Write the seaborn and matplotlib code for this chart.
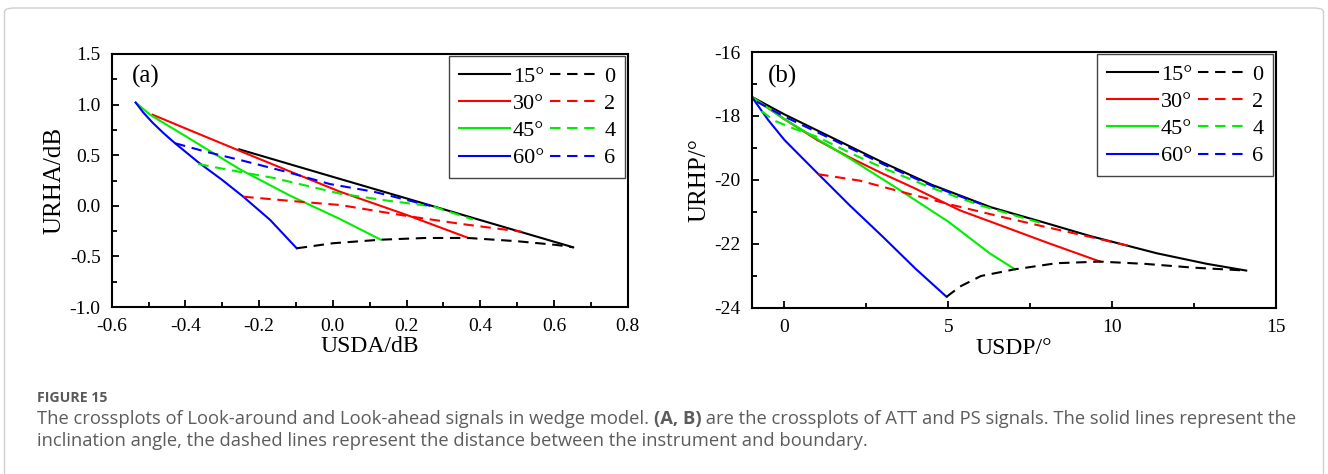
import matplotlib
matplotlib.use("Agg")
import matplotlib.pyplot as plt
from matplotlib.lines import Line2D
from matplotlib.patches import FancyBboxPatch
from matplotlib.ticker import MultipleLocator, FuncFormatter
import numpy as np
import pandas as pd
import seaborn as sns

# ---------------- data: panel (a) ATT crossplot ----------------
a_15_x = [-0.254, 0.0, 0.2, 0.4, 0.652]
a_15_y = [0.558, 0.286, 0.073, -0.141, -0.41]
a_30_x = [-0.489, -0.40, -0.254, -0.12, 0.019, 0.2, 0.368]
a_30_y = [0.90, 0.765, 0.545, 0.345, 0.14, -0.09, -0.318]
a_45_x = [-0.535, -0.496, -0.387, -0.252, -0.116, 0.019, 0.13]
a_45_y = [1.02, 0.90, 0.66, 0.36, 0.10, -0.13, -0.335]
a_60_x = [-0.535, -0.515, -0.49, -0.46, -0.428, -0.365, -0.30, -0.243, -0.17, -0.098]
a_60_y = [1.02, 0.925, 0.825, 0.72, 0.618, 0.43, 0.255, 0.09, -0.14, -0.42]

a_d0_x = [-0.098, 0.0, 0.13, 0.25, 0.368, 0.5, 0.607, 0.652]
a_d0_y = [-0.42, -0.37, -0.335, -0.318, -0.318, -0.35, -0.387, -0.41]
a_d2_x = [-0.243, -0.089, 0.019, 0.2, 0.35, 0.512]
a_d2_y = [0.09, 0.04, 0.008, -0.10, -0.18, -0.256]
a_d4_x = [-0.365, -0.29, -0.16, 0.02, 0.15, 0.27, 0.38]
a_d4_y = [0.413, 0.36, 0.275, 0.12, 0.05, -0.005, -0.135]
a_d6_x = [-0.428, -0.34, -0.252, -0.12, -0.008, 0.11, 0.264]
a_d6_y = [0.618, 0.53, 0.453, 0.33, 0.215, 0.14, 0.0]

# ---------------- data: panel (b) PS crossplot ----------------
b_15_x = [-1.0, 0.0, 1.5, 3.0, 4.5, 6.3, 8.0, 9.33, 11.37, 12.9, 14.1]
b_15_y = [-17.4, -17.95, -18.7, -19.45, -20.15, -20.85, -21.35, -21.75, -22.29, -22.62, -22.83]
b_30_x = [-1.0, 0.0, 1.0, 2.0, 3.0, 4.0, 5.36, 6.5, 8.0, 9.64]
b_30_y = [-17.4, -18.1, -18.75, -19.3, -19.8, -20.27, -20.95, -21.38, -21.95, -22.55]
b_45_x = [-1.0, 0.0, 1.0, 2.0, 3.5, 5.0, 6.28, 7.04]
b_45_y = [-17.4, -18.1, -18.72, -19.33, -20.3, -21.3, -22.3, -22.79]
b_60_x = [-1.0, -0.5, 0.0, 1.0, 2.0, 3.0, 4.0, 4.95]
b_60_y = [-17.4, -18.12, -18.75, -19.78, -20.8, -21.77, -22.77, -23.65]

b_d0_x = [4.95, 5.36, 6.0, 7.04, 8.31, 9.63, 11.0, 12.5, 14.1]
b_d0_y = [-23.65, -23.33, -23.0, -22.79, -22.6, -22.55, -22.62, -22.74, -22.83]
b_d2_x = [1.03, 2.3, 3.5, 5.0, 6.5, 7.9, 9.3, 10.6]
b_d2_y = [-19.82, -20.02, -20.35, -20.75, -21.12, -21.45, -21.77, -22.08]
b_d4_x = [-0.7, -0.3, 0.3, 1.0, 2.0, 3.0, 4.5, 6.0, 7.85]
b_d4_y = [-17.85, -18.15, -18.4, -18.65, -19.15, -19.62, -20.25, -20.8, -21.35]
b_d6_x = [-0.85, 0.0, 1.5, 3.0, 4.5, 6.0]
b_d6_y = [-17.55, -18.02, -18.75, -19.5, -20.18, -20.75]

angle_labels = ["15°", "30°", "45°", "60°"]
dist_labels = ["0", "2", "4", "6"]
colors = ["#000000", "#ff0000", "#00ee00", "#0000ff"]

SERIF = ["Liberation Serif", "DejaVu Serif"]
plt.rcParams["font.family"] = SERIF

W, H = 1328, 474
fig = plt.figure(figsize=(W / 100, H / 100), dpi=100)
fig.patch.set_facecolor("white")


def px_axes(l, t, r, b):
    return fig.add_axes([l / W, 1 - b / H, (r - l) / W, (b - t) / H])


ax_a = px_axes(111.7, 54, 627.7, 307)
ax_b = px_axes(751.7, 52, 1275.7, 308)

DASH = (0, (5, 3.2))
LW = 1.5


def draw_panel(ax, solids, dashed):
    for (x, y), c in zip(solids, colors):
        sns.lineplot(x=x, y=y, sort=False, estimator=None, color=c,
                     linewidth=LW, linestyle="-", ax=ax)
    for (x, y), c in zip(dashed, colors):
        sns.lineplot(x=x, y=y, sort=False, estimator=None, color=c,
                     linewidth=LW, linestyle=DASH, ax=ax)


draw_panel(ax_a,
           [(a_15_x, a_15_y), (a_30_x, a_30_y), (a_45_x, a_45_y), (a_60_x, a_60_y)],
           [(a_d0_x, a_d0_y), (a_d2_x, a_d2_y), (a_d4_x, a_d4_y), (a_d6_x, a_d6_y)])
draw_panel(ax_b,
           [(b_15_x, b_15_y), (b_30_x, b_30_y), (b_45_x, b_45_y), (b_60_x, b_60_y)],
           [(b_d0_x, b_d0_y), (b_d2_x, b_d2_y), (b_d4_x, b_d4_y), (b_d6_x, b_d6_y)])


def style_axes(ax, xlim, ylim, xmaj, xmin, ymaj, ymin, xlabel, ylabel, tag, tagpos, xfmt, yfmt):
    ax.set_xlim(*xlim)
    ax.set_ylim(*ylim)
    ax.xaxis.set_major_locator(MultipleLocator(xmaj))
    ax.xaxis.set_minor_locator(MultipleLocator(xmin))
    ax.yaxis.set_major_locator(MultipleLocator(ymaj))
    ax.yaxis.set_minor_locator(MultipleLocator(ymin))
    ax.xaxis.set_major_formatter(xfmt)
    ax.yaxis.set_major_formatter(yfmt)
    for s in ax.spines.values():
        s.set_linewidth(1.5)
        s.set_color("black")
    ax.tick_params(which="both", direction="in", top=False, right=False,
                   labelsize=14, width=1.3, pad=8, colors="black")
    ax.tick_params(which="major", length=5)
    ax.tick_params(which="minor", length=3.5)
    ax.set_xlabel(xlabel, fontsize=17, labelpad=1)
    ax.set_ylabel(ylabel, fontsize=18, labelpad=3)
    ax.text(tagpos[0], tagpos[1], tag, transform=ax.transAxes, fontsize=18,
            ha="left", va="center")
    ax.grid(False)
    ax.set_facecolor("white")

    handles = [Line2D([], [], color=c, lw=LW, ls="-") for c in colors] + \
              [Line2D([], [], color=c, lw=LW, ls=DASH) for c in colors]
    leg = ax.legend(handles, angle_labels + dist_labels, ncol=2, loc="upper right",
                    bbox_to_anchor=(1.0, 1.0), borderaxespad=0.1, fontsize=16,
                    frameon=True, fancybox=False, edgecolor="#444444",
                    handlelength=2.3, handletextpad=0.15, columnspacing=0.25,
                    labelspacing=0.3, borderpad=0.45, framealpha=1)
    leg.get_frame().set_linewidth(1.0)


fmt1 = FuncFormatter(lambda v, pos: f"{v:.1f}")
fmt0 = FuncFormatter(lambda v, pos: f"{v:.0f}")

style_axes(ax_a, (-0.6, 0.8), (-1.0, 1.5), 0.2, 0.1, 0.5, 0.25,
           "USDA/dB", "URHA/dB", "(a)", (0.04, 0.91), fmt1, fmt1)
style_axes(ax_b, (-1, 15), (-24, -16), 5, 2.5, 2, 1,
           "USDP/°", "URHP/°", "(b)", (0.03, 0.905), fmt0, fmt0)

# outer frame (open at the bottom edge)
frame = FancyBboxPatch((4.5 / W, -0.05), (W - 9) / W, 1.05 - 8 / H,
                       boxstyle="round,pad=0,rounding_size=0.008",
                       transform=fig.transFigure, facecolor="none",
                       edgecolor="#cfcfcf", linewidth=1.0, zorder=0)
fig.patches.append(frame)

# caption
CAP = ["Open Sans", "DejaVu Sans"]
fig.text(37 / W, 1 - 398 / H, "FIGURE 15", fontsize=10.2, fontweight="bold",
         color="#5a5a5a", family=CAP, va="center", ha="left")

renderer = fig.canvas.get_renderer()


def run_line(x0, y, parts, size=13.2, color="#5c5c5c"):
    x = x0
    for txt, bold in parts:
        t = fig.text(x / W, 1 - y / H, txt, fontsize=size, color=color, family=CAP,
                     fontweight="bold" if bold else "normal", va="center", ha="left")
        bb = t.get_window_extent(renderer=renderer)
        x += bb.width


run_line(37, 419, [("The crossplots of Look-around and Look-ahead signals in wedge model. ", False),
                   ("(A, B)", True),
                   (" are the crossplots of ATT and PS signals. The solid lines represent the", False)])
run_line(37, 441, [("inclination angle, the dashed lines represent the distance between the instrument and boundary.", False)])

fig.savefig("out.png", dpi=100, facecolor="white")
